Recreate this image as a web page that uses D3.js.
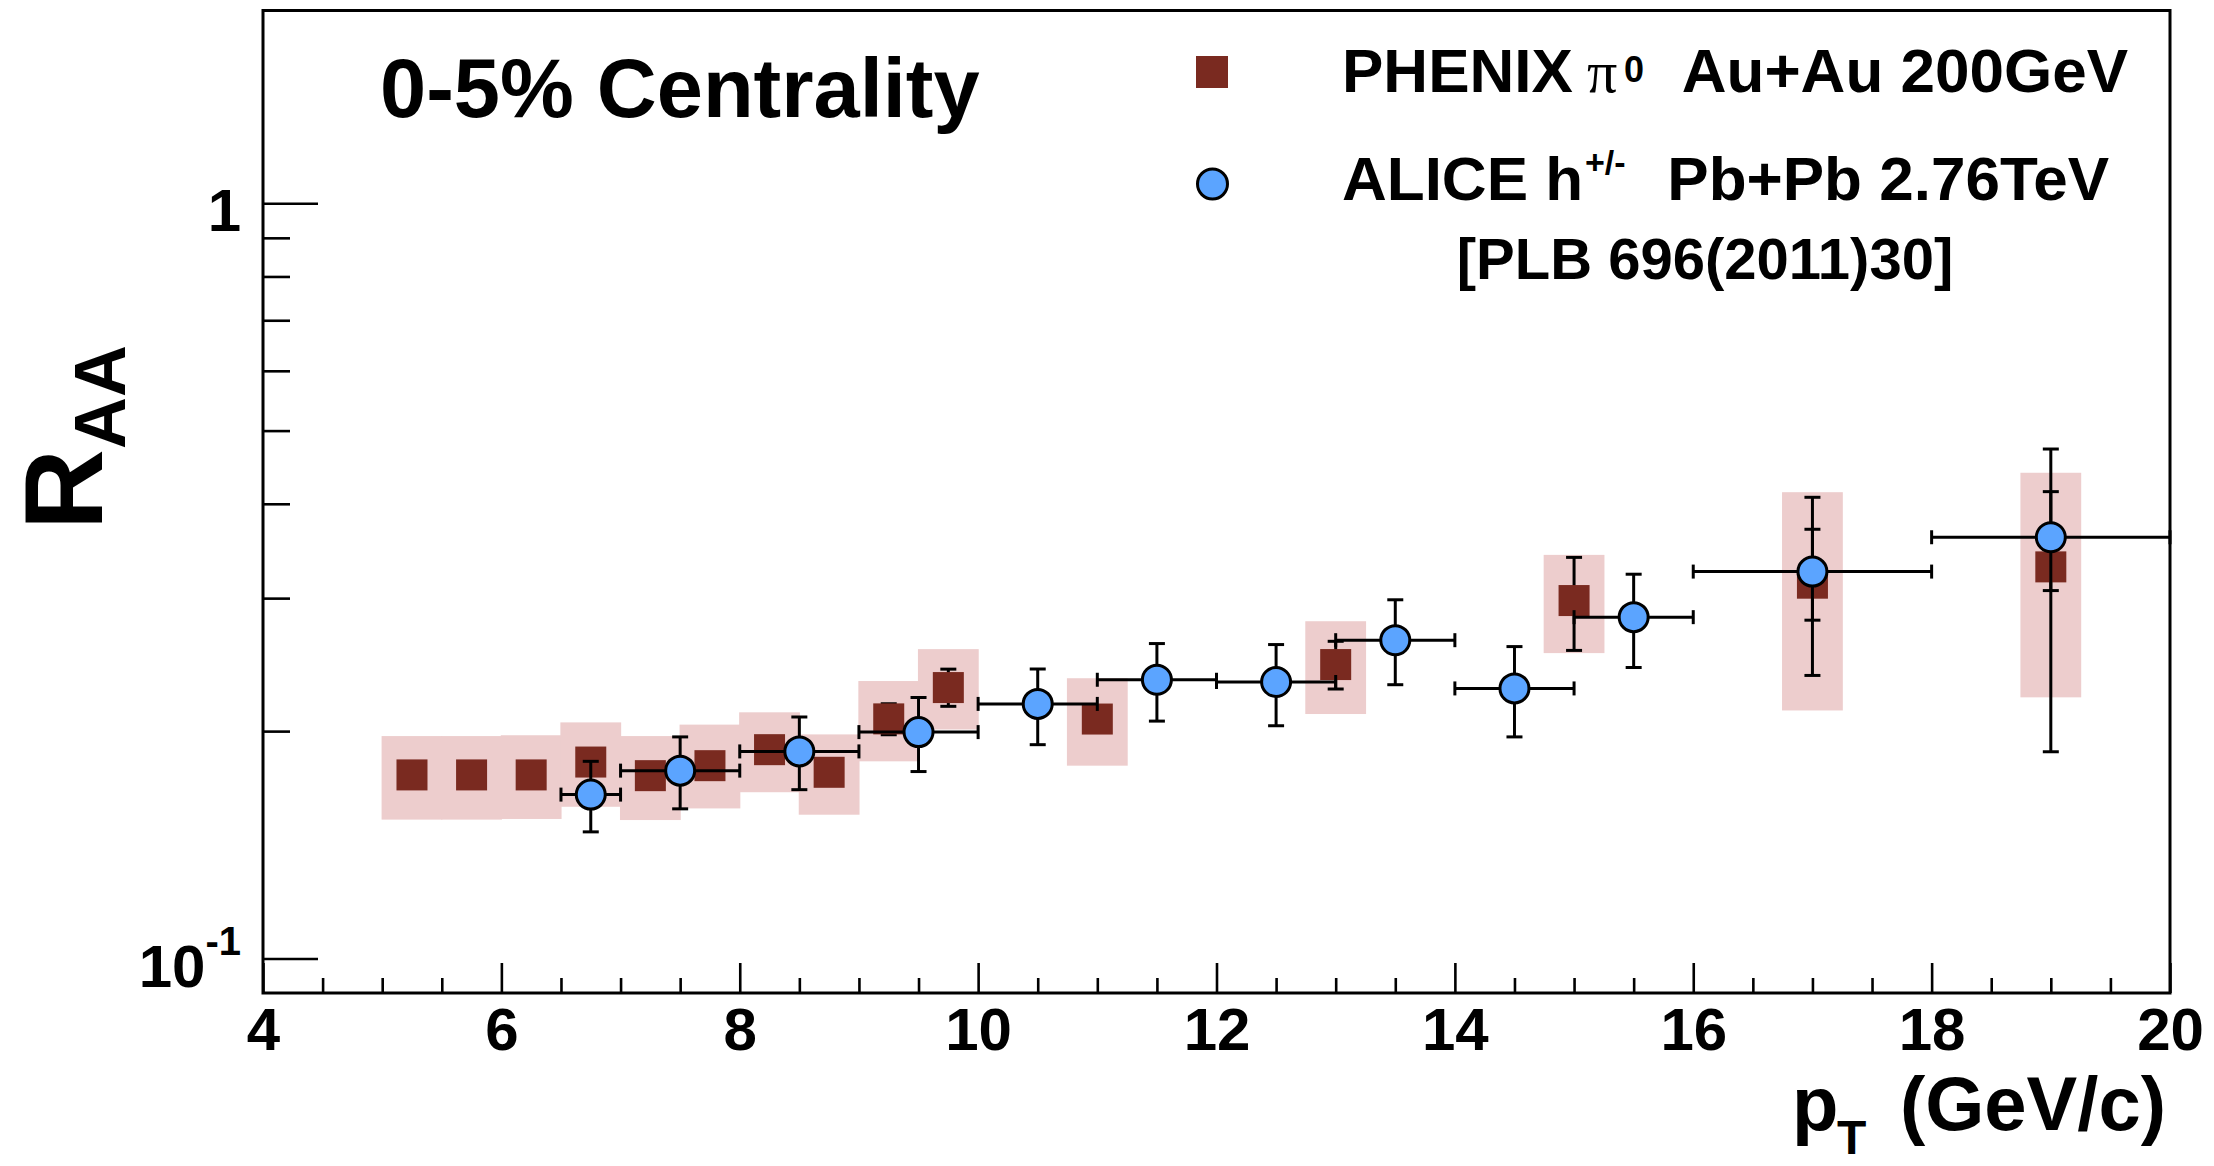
<!DOCTYPE html>
<html><head><meta charset="utf-8">
<script src="https://cdn.jsdelivr.net/npm/d3@7"></script>
<style>body{margin:0;background:#fff}svg{display:block}</style>
</head><body>
<svg id="c" width="2214" height="1166"></svg>
<script>
// ---------------- data ----------------
const phenixPt     = [5.25, 5.75, 6.25, 6.75, 7.25, 7.75, 8.25, 8.75, 9.25, 9.75, 11, 13, 15, 17, 19];
const phenixRaa    = [0.175, 0.175, 0.175, 0.182, 0.1746, 0.180, 0.189, 0.1764, 0.2076, 0.2284, 0.2075, 0.245, 0.2978, 0.314, 0.330];
const phenixStatLo = [0.171, 0.171, 0.171, 0.178, 0.171, 0.176, 0.185, 0.172, 0.1978, 0.2157, 0.2015, 0.2274, 0.2558, 0.237, 0.1878];
const phenixStatHi = [0.179, 0.179, 0.179, 0.186, 0.178, 0.184, 0.193, 0.180, 0.2174, 0.2416, 0.2135, 0.263, 0.3397, 0.408, 0.4727];
const phenixSysLo  = [0.1527, 0.1527, 0.153, 0.1588, 0.1525, 0.158, 0.166, 0.155, 0.1824, 0.201, 0.180, 0.2107, 0.2537, 0.213, 0.2217];
const phenixSysHi  = [0.197, 0.197, 0.1975, 0.2054, 0.197, 0.204, 0.2118, 0.198, 0.233, 0.2568, 0.235, 0.2796, 0.3423, 0.4144, 0.4397];

const alicePt    = [6.75, 7.5, 8.5, 9.5, 10.5, 11.5, 12.5, 13.5, 14.5, 15.5, 17, 19];
const alicePtLo  = [6.5, 7, 8, 9, 10, 11, 12, 13, 14, 15, 16, 18];
const alicePtHi  = [7, 8, 9, 10, 11, 12, 13, 14, 15, 16, 18, 20];
const aliceRaa   = [0.1648, 0.1773, 0.188, 0.1994, 0.2173, 0.2339, 0.2323, 0.2639, 0.2278, 0.2831, 0.3253, 0.3612];
const aliceErrLo = [0.1471, 0.1578, 0.1673, 0.1768, 0.1919, 0.2062, 0.2033, 0.2304, 0.1965, 0.2428, 0.2805, 0.307];
const aliceErrHi = [0.1824, 0.1965, 0.2088, 0.2216, 0.2417, 0.2612, 0.2604, 0.2985, 0.2588, 0.3227, 0.3701, 0.4151];

const xMajorTicks = [4, 6, 8, 10, 12, 14, 16, 18, 20];
const yMajorTicks = [0.1, 1];
const yMinorTicks = [0.2, 0.3, 0.4, 0.5, 0.6, 0.7, 0.8, 0.9];

const titleText = "0-5% Centrality";
const legendPhenix = ["PHENIX", "\u03C0", "0", "Au+Au 200GeV"];
const legendAlice  = ["ALICE h", "+/-", "Pb+Pb 2.76TeV"];
const legendRef    = "[PLB 696(2011)30]";

// ---------------- drawing ----------------
const FONT = "'Liberation Sans', Arial, Helvetica, sans-serif";
const svg = d3.select('#c');
const X0 = 263, X1 = 2170, Y0 = 993, Y1 = 10.5;
const x = d3.scaleLinear().domain([4, 20]).range([X0, X1]);
const y = d3.scaleLog().domain([0.09, 1.8]).range([Y0, Y1]);

const BOX_COL = '#EDCDCD', SQ_COL = '#7A2A20', CIR_COL = '#5BA4FF';
const boxHalf = 0.255, sq = 31, capW = 8, capH = 7, lw = 3;

const phenix = phenixPt.map((p, i) => ({p, v: phenixRaa[i], slo: phenixStatLo[i], shi: phenixStatHi[i], ylo: phenixSysLo[i], yhi: phenixSysHi[i]}));
const alice = alicePt.map((p, i) => ({p, v: aliceRaa[i], plo: alicePtLo[i], phi: alicePtHi[i], lo: aliceErrLo[i], hi: aliceErrHi[i]}));

const plot = svg.append('g');

// systematic boxes
plot.selectAll('rect.sys').data(phenix).enter().append('rect')
  .attr('x', d => x(d.p - boxHalf)).attr('width', d => x(d.p + boxHalf) - x(d.p - boxHalf))
  .attr('y', d => y(d.yhi)).attr('height', d => y(d.ylo) - y(d.yhi))
  .attr('fill', BOX_COL);

// phenix stat errors
const pe = plot.selectAll('g.pe').data(phenix).enter().append('g').attr('stroke', '#000').attr('stroke-width', lw);
pe.append('line').attr('x1', d => x(d.p)).attr('x2', d => x(d.p)).attr('y1', d => y(d.slo)).attr('y2', d => y(d.shi));
pe.append('line').attr('x1', d => x(d.p) - capW).attr('x2', d => x(d.p) + capW).attr('y1', d => y(d.slo)).attr('y2', d => y(d.slo));
pe.append('line').attr('x1', d => x(d.p) - capW).attr('x2', d => x(d.p) + capW).attr('y1', d => y(d.shi)).attr('y2', d => y(d.shi));

// phenix squares
plot.selectAll('rect.sq').data(phenix).enter().append('rect')
  .attr('x', d => x(d.p) - sq / 2).attr('y', d => y(d.v) - sq / 2)
  .attr('width', sq).attr('height', sq).attr('fill', SQ_COL);

// alice errors
const ae = plot.selectAll('g.ae').data(alice).enter().append('g').attr('stroke', '#000').attr('stroke-width', lw);
ae.append('line').attr('x1', d => x(d.plo)).attr('x2', d => x(d.phi)).attr('y1', d => y(d.v)).attr('y2', d => y(d.v));
ae.append('line').attr('x1', d => x(d.plo)).attr('x2', d => x(d.plo)).attr('y1', d => y(d.v) - capH).attr('y2', d => y(d.v) + capH);
ae.append('line').attr('x1', d => x(d.phi)).attr('x2', d => x(d.phi)).attr('y1', d => y(d.v) - capH).attr('y2', d => y(d.v) + capH);
ae.append('line').attr('x1', d => x(d.p)).attr('x2', d => x(d.p)).attr('y1', d => y(d.lo)).attr('y2', d => y(d.hi));
ae.append('line').attr('x1', d => x(d.p) - capW).attr('x2', d => x(d.p) + capW).attr('y1', d => y(d.lo)).attr('y2', d => y(d.lo));
ae.append('line').attr('x1', d => x(d.p) - capW).attr('x2', d => x(d.p) + capW).attr('y1', d => y(d.hi)).attr('y2', d => y(d.hi));

// alice circles
plot.selectAll('circle.al').data(alice).enter().append('circle')
  .attr('cx', d => x(d.p)).attr('cy', d => y(d.v)).attr('r', 14.5)
  .attr('fill', CIR_COL).attr('stroke', '#000').attr('stroke-width', lw);

// ---------------- axes ----------------
const xMinor = d3.range(4.5, 20, 0.5).filter(v => v % 2 !== 0);
const gxMinor = svg.append('g').attr('transform', `translate(0,${Y0})`)
  .call(d3.axisBottom(x).tickValues(xMinor).tickSize(-15).tickFormat(''));
const gx = svg.append('g').attr('transform', `translate(0,${Y0})`)
  .call(d3.axisBottom(x).tickValues(xMajorTicks).tickSize(-30).tickPadding(14).tickFormat(d3.format('d')));
const gyMinor = svg.append('g').attr('transform', `translate(${X0},0)`)
  .call(d3.axisLeft(y).tickValues(yMinorTicks).tickSize(-27).tickFormat(''));
const gy = svg.append('g').attr('transform', `translate(${X0},0)`)
  .call(d3.axisLeft(y).tickValues(yMajorTicks).tickSize(-55).tickPadding(22).tickFormat(d => d === 1 ? '1' : ''));

[gxMinor, gx, gyMinor, gy].forEach(g => {
  g.select('.domain').remove();
  g.selectAll('.tick line').attr('stroke', '#000').attr('stroke-width', 2.6);
  g.selectAll('text').attr('font-family', FONT).attr('font-weight', 'bold').attr('font-size', 60).attr('fill', '#000');
});
gy.selectAll('text').attr('dy', '0.46em');
gy.selectAll('.tick').filter(d => d === 0.1).select('text').each(function () {
  const t = d3.select(this);
  t.text(null);
  t.append('tspan').text('10');
  t.append('tspan').attr('font-size', 40).attr('dy', -32).text('-1');
});

// frame
svg.append('rect').attr('x', X0).attr('y', Y1).attr('width', X1 - X0).attr('height', Y0 - Y1)
  .attr('fill', 'none').attr('stroke', '#000').attr('stroke-width', 3);

// ---------------- titles ----------------
const tx = (sel) => sel.attr('font-family', FONT).attr('font-weight', 'bold').attr('fill', '#000');
// y title R_AA
const yt = svg.append('text').attr('transform', 'translate(102,530) rotate(-90)').call(tx).attr('font-size', 112);
yt.append('tspan').text('R');
yt.append('tspan').attr('font-size', 72).attr('dy', 23).text('AA');
// x title p_T (GeV/c)
svg.append('text').attr('x', 1792).attr('y', 1130).call(tx).attr('font-size', 76).text('p');
svg.append('text').attr('x', 1837).attr('y', 1154).call(tx).attr('font-size', 48).text('T');
svg.append('text').attr('x', 2166).attr('y', 1130).attr('text-anchor', 'end').call(tx).attr('font-size', 76).text('(GeV/c)');

// centrality title
svg.append('text').attr('x', 380).attr('y', 117).call(tx).attr('font-size', 83).text(titleText);

// ---------------- legend ----------------
svg.append('rect').attr('x', 1212 - 16).attr('y', 72 - 16).attr('width', 32).attr('height', 32).attr('fill', SQ_COL);
svg.append('circle').attr('cx', 1212.5).attr('cy', 184).attr('r', 15)
  .attr('fill', CIR_COL).attr('stroke', '#000').attr('stroke-width', lw);

svg.append('text').attr('x', 1342).attr('y', 92).call(tx).attr('font-size', 62).text(legendPhenix[0]);
svg.append('text').attr('x', 1587).attr('y', 92).attr('font-family', "'Liberation Serif', 'Times New Roman', serif")
  .attr('font-size', 60).attr('fill', '#000').text(legendPhenix[1]);
svg.append('text').attr('x', 1624).attr('y', 82).call(tx).attr('font-size', 36).text(legendPhenix[2]);
svg.append('text').attr('x', 2128).attr('y', 92).attr('text-anchor', 'end').call(tx).attr('font-size', 62)
  .text(legendPhenix[3]);

svg.append('text').attr('x', 1342).attr('y', 200).call(tx).attr('font-size', 62).text(legendAlice[0]);
svg.append('text').attr('x', 1585).attr('y', 174).call(tx).attr('font-size', 34).text(legendAlice[1]);
svg.append('text').attr('x', 2109).attr('y', 200).attr('text-anchor', 'end').call(tx).attr('font-size', 62)
  .text(legendAlice[2]);

svg.append('text').attr('x', 1705).attr('y', 279).attr('text-anchor', 'middle').call(tx).attr('font-size', 58)
  .text(legendRef);
</script>
</body></html>
